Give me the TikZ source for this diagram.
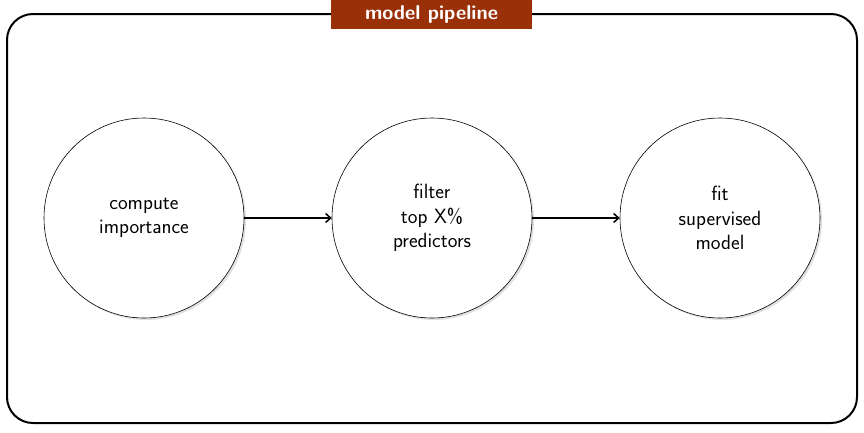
\documentclass[tikz,border=0pt]{standalone}
\usepackage{fontspec}
\usetikzlibrary{arrows.meta,shadows}
\definecolor{titlebg}{HTML}{9A3008}
\begin{document}
\begin{tikzpicture}[x=1pt,y=-1pt,
  stage/.style={circle,draw=black,line width=0.6pt,fill=white,minimum size=200pt,inner sep=0pt,
    align=center,font=\sffamily\fontsize{20.6}{24.5}\selectfont,
    drop shadow={shadow xshift=2pt,shadow yshift=-2pt,fill=black!12,opacity=1}},
  conn/.style={line width=1.5pt,-{Straight Barb[length=5pt,width=9pt,line width=1.5pt]}},
  frame/.style={draw=black,line width=2pt,rounded corners=26pt},
  titlebox/.style={fill=titlebg,text=white,minimum width=201pt,minimum height=29pt,inner sep=0pt,
    font=\sffamily\bfseries\fontsize{20}{22}\selectfont}]
\useasboundingbox (0,0) rectangle (864,432);
\draw[frame] (7,14) rectangle (857,423);
\node[titlebox] (title) at (431.5,14.5) {model pipeline};
\node[stage] (imp) at (144,218) {compute\\importance};
\node[stage] (filt) at (432,218) {filter\\top X\%\\predictors};
\node[stage] (fit) at (720,218) {fit\\supervised\\model};
\draw[conn] (imp) -- (filt);
\draw[conn] (filt) -- (fit);
\end{tikzpicture}
\end{document}
